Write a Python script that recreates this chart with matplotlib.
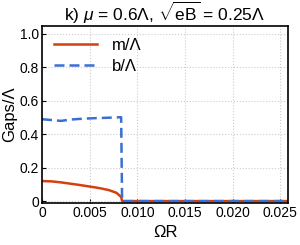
import matplotlib
matplotlib.use("Agg")
import matplotlib.pyplot as plt

plt.rcParams["font.family"] = ["Liberation Sans", "DejaVu Sans"]
plt.rcParams["mathtext.fontset"] = "custom"
plt.rcParams["mathtext.rm"] = "Liberation Sans"
plt.rcParams["mathtext.it"] = "Liberation Sans:italic"

# data
omega_r = [0.0, 0.001, 0.002, 0.003, 0.004, 0.005, 0.006, 0.007, 0.0078, 0.0083,
           0.0084, 0.012, 0.016, 0.020, 0.024, 0.026]
m_gap = [0.12, 0.118, 0.112, 0.104, 0.096, 0.087, 0.078, 0.066, 0.050, 0.025,
         0.0, 0.0, 0.0, 0.0, 0.0, 0.0]
b_gap = [0.490, 0.485, 0.480, 0.488, 0.492, 0.495, 0.497, 0.499, 0.501, 0.502,
         0.0, 0.0, 0.0, 0.0, 0.0, 0.0]
x_ticks = [0, 0.005, 0.010, 0.015, 0.020, 0.025]
x_labels = ["0", "0.005", "0.010", "0.015", "0.020", "0.025"]
y_ticks = [0, 0.2, 0.4, 0.6, 0.8, 1.0]
y_labels = ["0", "0.2", "0.4", "0.6", "0.8", "1.0"]

fig = plt.figure(figsize=(3.0, 2.45), dpi=100)
ax = fig.add_axes([0.14, 0.171, 0.82, 0.723])

ax.plot(omega_r, m_gap, color="#D2410F", lw=1.8, label="m/Λ")
ax.plot(omega_r, b_gap, color="#3B6FD6", lw=1.8, ls=(0, (4, 2)), label="b/Λ")

ax.set_xlim(0, 0.0258)
ax.set_ylim(-0.012, 1.048)
ax.set_xticks(x_ticks)
ax.set_xticklabels(x_labels)
ax.set_yticks(y_ticks)
ax.set_yticklabels(y_labels)
ax.tick_params(direction="in", length=3, labelsize=10, pad=2)
ax.grid(True, color="#cccccc", ls=":", lw=0.8)
for s in ax.spines.values():
    s.set_linewidth(1.2)

ax.set_xlabel("ΩR", fontsize=12, labelpad=4)
ax.set_ylabel("Gaps/Λ", fontsize=12, labelpad=2)
ax.set_title(r"k) $\mathit{\mu}$ = 0.6Λ, $\sqrt{\mathrm{eB}}$ = 0.25Λ", fontsize=12.5, pad=1)

ax.legend(loc="upper left", frameon=False, fontsize=12, handlelength=2.6,
          handletextpad=0.9, labelspacing=0.4, borderaxespad=0.3)

fig.savefig("out.png", dpi=100)
